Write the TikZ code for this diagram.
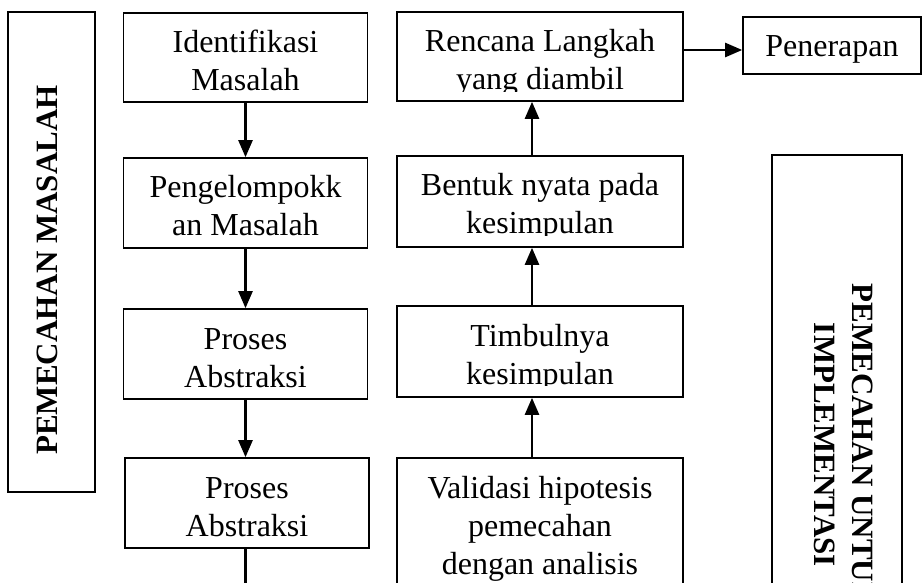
\documentclass[tikz,border=0pt]{standalone}
\usepackage{fontspec}
\setmainfont{Liberation Serif}
\usetikzlibrary{arrows.meta}
\begin{document}
\begin{tikzpicture}[x=1pt,y=-1pt,
  bx/.style={draw=black, line width=1.6pt, minimum width=#1, minimum height=90pt, inner sep=0pt},
  txt/.style={font=\fontsize{32}{38}\selectfont, inner sep=0pt, anchor=base},
  lbl/.style={font=\fontsize{31}{38}\selectfont\bfseries, inner sep=0pt},
  arr/.style={line width=2.4pt, -{Triangle[length=17pt,width=14pt]}},
  ln/.style={line width=2.4pt}
]
\useasboundingbox (0,0) rectangle (922,583);
\clip (0,0) rectangle (922,583);

% side frames
\node[bx=87pt, minimum height=480pt] (lf) at (51.5,252) {};
\node[lbl, rotate=90] (lft) at (47,270) {PEMECAHAN MASALAH};
\node[bx=130pt, minimum height=565pt] (rf) at (837,437.5) {};
\node[lbl, rotate=-90, anchor=base] (rft) at (852,445) {\begin{tabular}[t]{@{}c@{}}PEMECAHAN UNTUK\\IMPLEMENTASI\end{tabular}};

% column 1
\node[bx=244pt, minimum height=89pt] (id) at (245.5,57.5) {};
\node[txt] (idt) at (245.5,53) {\begin{tabular}[t]{@{}c@{}}Identifikasi\\Masalah\end{tabular}};
\node[bx=244pt] (pg) at (245.5,203) {};
\node[txt] (pgt) at (245.5,198) {\begin{tabular}[t]{@{}c@{}}Pengelompokk\\an Masalah\end{tabular}};
\node[bx=244pt] (pa) at (245.5,354) {};
\node[txt] (pat) at (245.5,349) {\begin{tabular}[t]{@{}c@{}}Proses\\Abstraksi\end{tabular}};
\node[bx=244pt] (pb) at (247,503) {};
\node[txt] (pbt) at (247,498) {\begin{tabular}[t]{@{}c@{}}Proses\\Abstraksi\end{tabular}};

% column 2
\node[bx=286pt, minimum height=89pt] (rc) at (540,56.5) {};
\begin{scope}
\clip ([yshift=10pt]rc.south west) rectangle (rc.north east);
\node[txt] (rct) at (540,52) {\begin{tabular}[t]{@{}c@{}}Rencana Langkah\\yang diambil\end{tabular}};
\end{scope}
\node[bx=286pt, minimum height=91pt] (bn) at (540,201.5) {};
\begin{scope}
\clip ([yshift=12pt]bn.south west) rectangle (bn.north east);
\node[txt] (bnt) at (540,196) {\begin{tabular}[t]{@{}c@{}}Bentuk nyata pada\\kesimpulan\end{tabular}};
\end{scope}
\node[bx=286pt, minimum height=91pt] (tb) at (540,351.5) {};
\begin{scope}
\clip ([yshift=12pt]tb.south west) rectangle (tb.north east);
\node[txt] (tbt) at (540,346) {\begin{tabular}[t]{@{}c@{}}Timbulnya\\kesimpulan\end{tabular}};
\end{scope}
\node[bx=286pt, minimum height=182pt] (vl) at (540,549) {};
\node[txt] (vlt) at (540,498) {\begin{tabular}[t]{@{}c@{}}Validasi hipotesis\\pemecahan\\dengan analisis\end{tabular}};

% Penerapan
\node[bx=178pt, minimum height=57pt] (pn) at (832,45.5) {};
\node[txt] (pnt) at (832,57) {Penerapan};

% connectors
\coordinate (endc) at (0,600);
\coordinate (ax) at (532,0);
\coordinate (ay) at (0,50);
\draw[arr] (id.south) -- (pg.north);
\draw[arr] (pg.south) -- (pa.north);
\draw[arr] (pa.south) -- (pa.south |- pb.north);
\draw[ln] (pb.south -| pa.south) -- (endc -| pa.south);
\draw[arr] (vl.north -| ax) -- (tb.south -| ax);
\draw[arr] (tb.north -| ax) -- (bn.south -| ax);
\draw[arr] (bn.north -| ax) -- (rc.south -| ax);
\draw[arr] (rc.east |- ay) -- (pn.west |- ay);
\end{tikzpicture}
\end{document}
